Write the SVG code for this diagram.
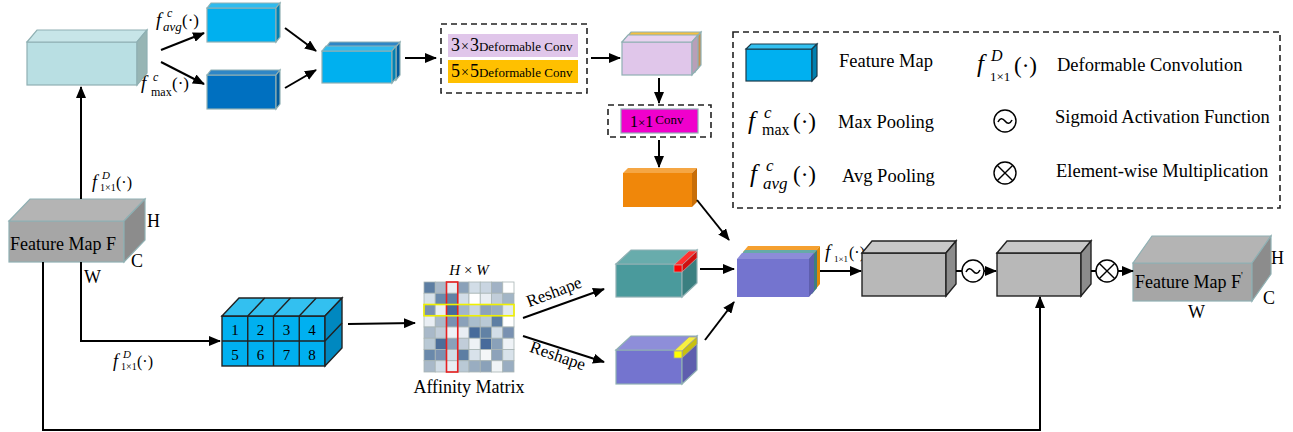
<svg xmlns="http://www.w3.org/2000/svg" width="1293" height="432" viewBox="0 0 1293 432">
<defs>
<marker id="ah" markerUnits="userSpaceOnUse" markerWidth="12" markerHeight="10" refX="11" refY="5" orient="auto"><path d="M0,0 L12,5 L0,10 z" fill="#000"/></marker>
<style>
text{font-family:"Liberation Serif","Times New Roman",serif;fill:#000}
.i{font-style:italic}
.c{stroke:#000;stroke-width:2;fill:none}
.a{stroke:#000;stroke-width:2;fill:none;marker-end:url(#ah)}
.dash{fill:none;stroke:#222;stroke-width:1.6;stroke-dasharray:6 4}
.ed{stroke:#8fb0b3;stroke-width:1.2}
.bk{stroke:#222;stroke-width:1.4}
.cell{stroke:#a9b5b5;stroke-width:0.8}
.lg{font-size:18.5px}
</style>
</defs>
<rect width="1293" height="432" fill="#fff"/>

<g id="pool-input">
<rect class="ed" x="27" y="42" width="110" height="43" fill="#b9dfe3"/>
<polygon class="ed" points="27,42 37,30 147,30 137,42" fill="#c7e5e8"/>
<polygon class="ed" points="137,42 147,30 147,73 137,85" fill="#97b5b4"/>
</g>

<g id="avg-map">
<rect class="ed" x="207" y="8" width="69" height="34" fill="#00b0ef"/>
<polygon class="ed" points="207,8 211,3 280,3 276,8" fill="#2fbbee"/>
<polygon class="ed" points="276,8 280,3 280,37 276,42" fill="#0082b4"/>
<text class="i" x="156" y="26" font-size="19">f</text>
<text class="i" x="167" y="17" font-size="12">c</text>
<text class="i" x="163" y="31" font-size="13">avg</text>
<text x="182" y="26" font-size="17">(·)</text>
</g>

<g id="max-map">
<rect class="ed" x="207" y="75" width="69" height="34" fill="#0070c0"/>
<polygon class="ed" points="207,75 211,70 280,70 276,75" fill="#2e86c6"/>
<polygon class="ed" points="276,75 280,70 280,104 276,109" fill="#005a9c"/>
<text class="i" x="141" y="89" font-size="19">f</text>
<text class="i" x="153" y="81" font-size="12">c</text>
<text x="151" y="96" font-size="12">max</text>
<text x="172" y="89" font-size="17">(·)</text>
</g>

<g id="concat-map">
<rect class="ed" x="326" y="47" width="70" height="33" fill="#0070c0"/>
<polygon class="ed" points="326,47 330,42 400,42 396,47" fill="#2e86c6"/>
<polygon class="ed" points="396,47 400,42 400,75 396,80" fill="#005a9c"/>
<rect class="ed" x="322" y="51" width="70" height="32" fill="#00b0ef"/>
<polygon class="ed" points="322,51 326,46 396,46 392,51" fill="#2fbbee"/>
<polygon class="ed" points="392,51 396,46 396,78 392,83" fill="#0082b4"/>
</g>

<g id="deform-conv">
<rect class="dash" x="441" y="24" width="146" height="69"/>
<rect x="448" y="34" width="130" height="23" fill="#e0c6ea"/>
<rect x="448" y="60" width="130" height="23" fill="#ffc000"/>
<text x="451" y="51" font-size="18">3<tspan font-size="14" dx="1">×</tspan><tspan dx="1">3</tspan><tspan font-size="13">Deformable Conv</tspan></text>
<text x="451" y="77" font-size="18">5<tspan font-size="14" dx="1">×</tspan><tspan dx="1">5</tspan><tspan font-size="13">Deformable Conv</tspan></text>
</g>

<g id="deform-out">
<rect class="ed" x="625" y="39" width="70" height="33" fill="#f0a830"/>
<polygon class="ed" points="625,39 631,32 701,32 695,39" fill="#f5c040"/>
<polygon class="ed" points="695,39 701,32 701,65 695,72" fill="#c89050"/>
<rect class="ed" x="622" y="42" width="70" height="33" fill="#e0c6ea"/>
<polygon class="ed" points="622,42 628,35 698,35 692,42" fill="#e8d3ef"/>
<polygon class="ed" points="692,42 698,35 698,68 692,75" fill="#b89fb8"/>
</g>

<g id="conv1x1">
<rect class="dash" x="608" y="105" width="103" height="32"/>
<rect x="621" y="109" width="77" height="24" fill="#f000cc" stroke="#8fb0b3" stroke-width="1.2"/>
<text x="630" y="127" font-size="16">1<tspan font-size="13">×</tspan>1<tspan font-size="13" dx="2" dy="-3">Conv</tspan></text>
</g>

<g id="conv-out">
<rect x="623" y="173" width="69" height="34" fill="#f0870a"/>
<polygon points="623,173 628,168 697,168 692,173" fill="#f5a644"/>
<polygon points="692,173 697,168 697,202 692,207" fill="#c86e08"/>
</g>

<g id="legend">
<rect class="dash" x="733" y="32" width="547" height="176"/>
<rect x="746" y="49" width="66" height="32" fill="#00b0f0" stroke="#1a3a4a" stroke-width="1.2"/>
<polygon points="746,49 751,44 817,44 812,49" fill="#33c0f0" stroke="#1a3a4a" stroke-width="1.2"/>
<polygon points="812,49 817,44 817,76 812,81" fill="#0080b0" stroke="#1a3a4a" stroke-width="1.2"/>
<text class="lg" x="839" y="67">Feature Map</text>
<text class="i" x="977" y="72" font-size="25">f</text>
<text class="i" x="991" y="61" font-size="16">D</text>
<text x="990" y="81" font-size="13">1×1</text>
<text x="1014" y="73" font-size="23">(·)</text>
<text class="lg" x="1057" y="71">Deformable Convolution</text>
<text class="i" x="748" y="129" font-size="25">f</text>
<text class="i" x="764" y="118" font-size="17">c</text>
<text x="762" y="135" font-size="16">max</text>
<text x="793" y="129" font-size="23">(·)</text>
<text class="lg" x="838" y="128">Max Pooling</text>
<circle cx="1005" cy="121" r="11" fill="none" stroke="#000" stroke-width="1.4"/>
<path d="M998,122 Q1001,116 1005,121 Q1009,126 1012,120" fill="none" stroke="#000" stroke-width="1.6"/>
<text class="lg" x="1055" y="123">Sigmoid Activation Function</text>
<text class="i" x="750" y="182" font-size="25">f</text>
<text class="i" x="766" y="171" font-size="17">c</text>
<text class="i" x="763" y="189" font-size="17">avg</text>
<text x="793" y="182" font-size="23">(·)</text>
<text class="lg" x="842" y="182">Avg Pooling</text>
<circle cx="1005" cy="173" r="11" fill="none" stroke="#000" stroke-width="1.4"/>
<path d="M997.2,165.2 L1012.8,180.8 M1012.8,165.2 L997.2,180.8" stroke="#000" stroke-width="1.4"/>
<text class="lg" x="1056" y="177">Element-wise Multiplication</text>
</g>

<g id="feature-map-F">
<rect class="ed" x="9" y="221" width="115" height="41" fill="#a6a6a6"/>
<polygon class="ed" points="9,221 30,199 145,199 124,221" fill="#b4b4b4"/>
<polygon class="ed" points="124,221 145,199 145,240 124,262" fill="#8c8c8c"/>
<text x="10" y="250" font-size="18">Feature Map F</text>
<text x="147" y="227" font-size="18">H</text>
<text x="131" y="267" font-size="18">C</text>
<text x="84" y="283" font-size="18">W</text>
</g>

<g id="labels-d">
<text class="i" x="92" y="188" font-size="18">f</text>
<text class="i" x="102" y="179" font-size="11">D</text>
<text x="100" y="191" font-size="10">1×1</text>
<text x="116" y="188" font-size="16">(·)</text>
<text class="i" x="113" y="367" font-size="18">f</text>
<text class="i" x="123" y="358" font-size="11">D</text>
<text x="121" y="370" font-size="10">1×1</text>
<text x="137" y="367" font-size="16">(·)</text>
</g>

<g id="grid-map">
<rect class="bk" x="222" y="316" width="103" height="50" fill="#00b0f0"/>
<polygon class="bk" points="222,316 239,298 342,298 325,316" fill="#33c0f0"/>
<polygon class="bk" points="325,316 342,298 342,348 325,366" fill="#0088c0"/>
<path class="bk" d="M247.75,316 V366 M273.5,316 V366 M299.25,316 V366 M222,341 H325 M247.75,316 L264.75,298 M273.5,316 L290.5,298 M299.25,316 L316.25,298 M325,341 L342,323" fill="none"/>
<g font-size="15" text-anchor="middle">
<text x="235" y="335">1</text><text x="260.6" y="335">2</text><text x="286.4" y="335">3</text><text x="312.1" y="335">4</text>
<text x="235" y="360">5</text><text x="260.6" y="360">6</text><text x="286.4" y="360">7</text><text x="312.1" y="360">8</text>
</g>
</g>

<g id="affinity-matrix">
<text x="469" y="275" font-size="15" text-anchor="middle"><tspan class="i">H</tspan> × <tspan class="i">W</tspan></text>
<g class="cell">
<rect x="424" y="282" width="11.25" height="11.25" fill="#5d7ea3"/><rect x="435.25" y="282" width="11.25" height="11.25" fill="#a9b9c9"/><rect x="446.5" y="282" width="11.25" height="11.25" fill="#e9eef3"/><rect x="457.75" y="282" width="11.25" height="11.25" fill="#8aa1b9"/><rect x="469" y="282" width="11.25" height="11.25" fill="#d2dde7"/><rect x="480.25" y="282" width="11.25" height="11.25" fill="#c9d5e1"/><rect x="491.5" y="282" width="11.25" height="11.25" fill="#a1b2c5"/><rect x="502.75" y="282" width="11.25" height="11.25" fill="#ffffff"/>
<rect x="424" y="293.25" width="11.25" height="11.25" fill="#d8e2ea"/><rect x="435.25" y="293.25" width="11.25" height="11.25" fill="#6a89ab"/><rect x="446.5" y="293.25" width="11.25" height="11.25" fill="#6282a5"/><rect x="457.75" y="293.25" width="11.25" height="11.25" fill="#d2dde7"/><rect x="469" y="293.25" width="11.25" height="11.25" fill="#ffffff"/><rect x="480.25" y="293.25" width="11.25" height="11.25" fill="#e9eef3"/><rect x="491.5" y="293.25" width="11.25" height="11.25" fill="#c1cdd9"/><rect x="502.75" y="293.25" width="11.25" height="11.25" fill="#a2b5c6"/>
<rect x="424" y="304.5" width="11.25" height="11.25" fill="#7991b1"/><rect x="435.25" y="304.5" width="11.25" height="11.25" fill="#e9eef3"/><rect x="446.5" y="304.5" width="11.25" height="11.25" fill="#476b9b"/><rect x="457.75" y="304.5" width="11.25" height="11.25" fill="#a2b5c9"/><rect x="469" y="304.5" width="11.25" height="11.25" fill="#c9d5e1"/><rect x="480.25" y="304.5" width="11.25" height="11.25" fill="#8da2ba"/><rect x="491.5" y="304.5" width="11.25" height="11.25" fill="#99adc1"/><rect x="502.75" y="304.5" width="11.25" height="11.25" fill="#e1e9ef"/>
<rect x="424" y="315.75" width="11.25" height="11.25" fill="#e9eef3"/><rect x="435.25" y="315.75" width="11.25" height="11.25" fill="#a9b9c9"/><rect x="446.5" y="315.75" width="11.25" height="11.25" fill="#7991b1"/><rect x="457.75" y="315.75" width="11.25" height="11.25" fill="#8aa1b9"/><rect x="469" y="315.75" width="11.25" height="11.25" fill="#a9bdcd"/><rect x="480.25" y="315.75" width="11.25" height="11.25" fill="#b9c9d5"/><rect x="491.5" y="315.75" width="11.25" height="11.25" fill="#5d7ea3"/><rect x="502.75" y="315.75" width="11.25" height="11.25" fill="#ffffff"/>
<rect x="424" y="327" width="11.25" height="11.25" fill="#a9b9c9"/><rect x="435.25" y="327" width="11.25" height="11.25" fill="#c1cdd9"/><rect x="446.5" y="327" width="11.25" height="11.25" fill="#eef2f6"/><rect x="457.75" y="327" width="11.25" height="11.25" fill="#e9eef3"/><rect x="469" y="327" width="11.25" height="11.25" fill="#476b9b"/><rect x="480.25" y="327" width="11.25" height="11.25" fill="#6282a5"/><rect x="491.5" y="327" width="11.25" height="11.25" fill="#d2dde7"/><rect x="502.75" y="327" width="11.25" height="11.25" fill="#7991b1"/>
<rect x="424" y="338.25" width="11.25" height="11.25" fill="#b9c9d5"/><rect x="435.25" y="338.25" width="11.25" height="11.25" fill="#4c6e99"/><rect x="446.5" y="338.25" width="11.25" height="11.25" fill="#8aa1b9"/><rect x="457.75" y="338.25" width="11.25" height="11.25" fill="#c1cdd9"/><rect x="469" y="338.25" width="11.25" height="11.25" fill="#eef2f6"/><rect x="480.25" y="338.25" width="11.25" height="11.25" fill="#476b9b"/><rect x="491.5" y="338.25" width="11.25" height="11.25" fill="#8aa1b9"/><rect x="502.75" y="338.25" width="11.25" height="11.25" fill="#eef2f6"/>
<rect x="424" y="349.5" width="11.25" height="11.25" fill="#6a89ab"/><rect x="435.25" y="349.5" width="11.25" height="11.25" fill="#7991b1"/><rect x="446.5" y="349.5" width="11.25" height="11.25" fill="#d2dde7"/><rect x="457.75" y="349.5" width="11.25" height="11.25" fill="#5d7ea3"/><rect x="469" y="349.5" width="11.25" height="11.25" fill="#d8e2ea"/><rect x="480.25" y="349.5" width="11.25" height="11.25" fill="#f4f6f8"/><rect x="491.5" y="349.5" width="11.25" height="11.25" fill="#8da2ba"/><rect x="502.75" y="349.5" width="11.25" height="11.25" fill="#d8e2ea"/>
<rect x="424" y="360.75" width="11.25" height="11.25" fill="#a9b9c9"/><rect x="435.25" y="360.75" width="11.25" height="11.25" fill="#d2dde7"/><rect x="446.5" y="360.75" width="11.25" height="11.25" fill="#e9eef3"/><rect x="457.75" y="360.75" width="11.25" height="11.25" fill="#b9c9d5"/><rect x="469" y="360.75" width="11.25" height="11.25" fill="#99adc1"/><rect x="480.25" y="360.75" width="11.25" height="11.25" fill="#8aa1b9"/><rect x="491.5" y="360.75" width="11.25" height="11.25" fill="#f0f4f6"/><rect x="502.75" y="360.75" width="11.25" height="11.25" fill="#99adc1"/>
</g>
<rect x="446.5" y="282" width="11.25" height="90" fill="none" stroke="#e82020" stroke-width="1.6"/>
<rect x="424" y="304.5" width="90" height="11.25" fill="none" stroke="#f0f000" stroke-width="1.6"/>
<text x="469" y="393" font-size="18" text-anchor="middle">Affinity Matrix</text>
</g>

<g id="reshape-teal">
<rect class="ed" x="616" y="264" width="66" height="33" fill="#4a9a9c"/>
<polygon class="ed" points="616,264 631,250 697,250 682,264" fill="#68acac"/>
<polygon class="ed" points="682,264 697,250 697,283 682,297" fill="#3b7f80"/>
<polygon points="674,265 682,265 697,251 689,251" fill="#ff3030" stroke="#c0a0a0" stroke-width="0.8"/>
<polygon points="682,265 697,251 697,258 682,272" fill="#d01010" stroke="#c0a0a0" stroke-width="0.8"/>
<rect x="674" y="265" width="8" height="7" fill="#ff0000" stroke="#c0a0a0" stroke-width="0.8"/>
</g>

<g id="reshape-purple">
<rect class="ed" x="616" y="350" width="66" height="34" fill="#7474cf"/>
<polygon class="ed" points="616,350 631,336 697,336 682,350" fill="#8e8ed9"/>
<polygon class="ed" points="682,350 697,336 697,370 682,384" fill="#5e5eae"/>
<polygon points="674,351 682,351 697,337 689,337" fill="#f8f040" stroke="#a0a0a0" stroke-width="0.8"/>
<polygon points="682,351 697,337 697,344 682,358" fill="#c8c010" stroke="#a0a0a0" stroke-width="0.8"/>
<rect x="674" y="351" width="8" height="7" fill="#ffff00" stroke="#a0a0a0" stroke-width="0.8"/>
</g>

<g id="stacked-map">
<rect x="743" y="252" width="72" height="38" fill="#f0900a"/>
<polygon points="743,252 748,246 820,246 815,252" fill="#f5a030"/>
<polygon points="815,252 820,246 820,284 815,290" fill="#e08808"/>
<rect x="740" y="256" width="72" height="38" fill="#4a9a9c"/>
<polygon points="740,256 745,250 817,250 812,256" fill="#66aaa8"/>
<polygon points="812,256 817,250 817,288 812,294" fill="#3d7f80"/>
<rect x="737" y="259" width="72" height="38" fill="#7474cf"/>
<polygon points="737,259 742,253 814,253 809,259" fill="#8c8cd8"/>
<polygon points="809,259 814,253 814,291 809,297" fill="#5e5eae"/>
</g>

<g id="label-f11">
<text class="i" x="825" y="258" font-size="19">f</text>
<text x="834" y="262" font-size="9">1×1</text>
<text x="849" y="258" font-size="16">(·)</text>
</g>

<g id="gray-box-1">
<rect class="bk" x="862" y="253" width="84" height="43" fill="#b8b8b8"/>
<polygon class="bk" points="862,253 872,241 956,241 946,253" fill="#c8c8c8"/>
<polygon class="bk" points="946,253 956,241 956,284 946,296" fill="#8c8c8c"/>
</g>

<g id="sigmoid">
<circle cx="973" cy="271" r="11" fill="#fff" stroke="#000" stroke-width="1.4"/>
<path d="M966,272 Q969,266 973,271 Q977,276 980,270" fill="none" stroke="#000" stroke-width="1.6"/>
</g>

<g id="gray-box-2">
<rect class="bk" x="997" y="253" width="84" height="43" fill="#b8b8b8"/>
<polygon class="bk" points="997,253 1007,241 1091,241 1081,253" fill="#c8c8c8"/>
<polygon class="bk" points="1081,253 1091,241 1091,284 1081,296" fill="#8c8c8c"/>
</g>

<g id="multiply">
<circle cx="1107" cy="271" r="11" fill="#fff" stroke="#000" stroke-width="1.4"/>
<path d="M1099.2,263.2 L1114.8,278.8 M1114.8,263.2 L1099.2,278.8" stroke="#000" stroke-width="1.4"/>
</g>

<g id="feature-map-out">
<rect class="ed" x="1133" y="263" width="119" height="38" fill="#a6a6a6"/>
<polygon class="ed" points="1133,263 1152,236 1271,236 1252,263" fill="#b4b4b4"/>
<polygon class="ed" points="1252,263 1271,236 1271,274 1252,301" fill="#8c8c8c"/>
<text x="1135" y="288" font-size="18">Feature Map F<tspan font-size="10" dy="-9">'</tspan></text>
<text x="1271" y="264" font-size="18">H</text>
<text x="1263" y="304" font-size="18">C</text>
<text x="1188" y="318" font-size="18">W</text>
</g>

<g id="reshape-labels">
<text x="556" y="297" font-size="17" text-anchor="middle" transform="rotate(-21 556 297)">Reshape</text>
<text x="556" y="361" font-size="17" text-anchor="middle" transform="rotate(19 556 361)">Reshape</text>
</g>

<g id="connectors">
<line class="a" x1="81" y1="199" x2="81" y2="87"/>
<line class="a" x1="161" y1="50" x2="204" y2="33"/>
<line class="a" x1="161" y1="62" x2="204" y2="84"/>
<line class="a" x1="285" y1="28" x2="316" y2="51"/>
<line class="a" x1="285" y1="88" x2="316" y2="70"/>
<line class="a" x1="405" y1="58" x2="436" y2="58"/>
<line class="a" x1="591" y1="58" x2="620" y2="58"/>
<line class="a" x1="659" y1="78" x2="659" y2="103"/>
<line class="a" x1="659" y1="140" x2="659" y2="167"/>
<line class="a" x1="697" y1="200" x2="729" y2="240"/>
<polyline class="a" points="81,262 81,341 220,341"/>
<line class="a" x1="348" y1="324" x2="415" y2="323"/>
<line class="a" x1="523" y1="318" x2="604" y2="289"/>
<line class="a" x1="523" y1="336" x2="604" y2="362"/>
<line class="a" x1="700" y1="269" x2="734" y2="269"/>
<line class="a" x1="705" y1="340" x2="734" y2="302"/>
<line class="a" x1="820" y1="271" x2="861" y2="271"/>
<line class="c" x1="956" y1="271" x2="962" y2="271"/>
<line class="a" x1="984" y1="271" x2="996" y2="271"/>
<line class="c" x1="1091" y1="271" x2="1096" y2="271"/>
<line class="a" x1="1118" y1="271" x2="1133" y2="271"/>
<polyline class="a" points="43,262 43,430 1040,430 1040,297"/>
</g>
</svg>
